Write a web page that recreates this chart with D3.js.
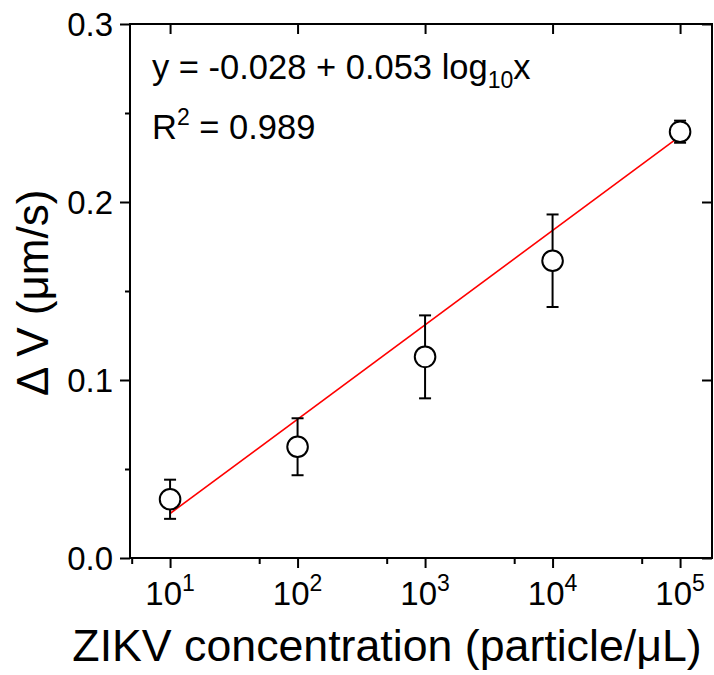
<!DOCTYPE html>
<html>
<head>
<meta charset="utf-8">
<script src="https://cdn.jsdelivr.net/npm/d3@7"></script>
<style>
  body { margin: 0; background: #fff; }
  text { font-family: "Liberation Sans", Arial, sans-serif; fill: #000; }
</style>
</head>
<body>
<svg id="chart" width="714" height="675"></svg>
<script>
// Measured response vs. ZIKV concentration
const concentrations = [1e1, 1e2, 1e3, 1e4, 1e5];
const deltaV = [0.033, 0.0625, 0.113, 0.167, 0.2395];
const deltaVErr = [0.011, 0.016, 0.0233, 0.026, 0.0062];

// Linear fit on log10(x)
const fitIntercept = -0.028;
const fitSlope = 0.053;
const rSquared = 0.989;
const fitRange = [1e1, 1e5];

// Axes
const xDomain = [4.85, 1.78e5];
const yDomain = [0, 0.3];
const xMajorTicks = [1e1, 1e2, 1e3, 1e4, 1e5];
const xMinorTicks = [5, 50, 500, 5000, 50000];
const yMajorTicks = [0, 0.1, 0.2, 0.3];
const yMinorTicks = [0.05, 0.15, 0.25];

const svg = d3.select("#chart");
const plotLeft = 130, plotRight = 712, plotTop = 24, plotBottom = 558;

const x = d3.scaleLog().domain(xDomain).range([plotLeft, plotRight]);
const y = d3.scaleLinear().domain(yDomain).range([plotBottom, plotTop]);

// Bottom axis: outward major + minor ticks
const gB = svg.append("g").attr("transform", `translate(0,${plotBottom})`);
gB.call(d3.axisBottom(x).tickValues(xMajorTicks).tickSize(10).tickFormat(""));
gB.select(".domain").remove();
const gBm = svg.append("g").attr("transform", `translate(0,${plotBottom})`);
gBm.call(d3.axisBottom(x).tickValues(xMinorTicks).tickSize(6).tickFormat(""));
gBm.select(".domain").remove();

// Top axis: inward major ticks
const gT = svg.append("g").attr("transform", `translate(0,${plotTop})`);
gT.call(d3.axisBottom(x).tickValues(xMajorTicks).tickSize(10).tickFormat(""));
gT.select(".domain").remove();

// Left axis: outward major + minor ticks with labels
const gL = svg.append("g").attr("transform", `translate(${plotLeft},0)`);
gL.call(d3.axisLeft(y).tickValues(yMajorTicks).tickSize(10).tickPadding(7).tickFormat(d3.format(".1f")));
gL.select(".domain").remove();
gL.selectAll("text").attr("font-size", 33).attr("dy", "0.36em");
const gLm = svg.append("g").attr("transform", `translate(${plotLeft},0)`);
gLm.call(d3.axisLeft(y).tickValues(yMinorTicks).tickSize(5).tickFormat(""));
gLm.select(".domain").remove();

// Right axis: inward major ticks
const gR = svg.append("g").attr("transform", `translate(${plotRight},0)`);
gR.call(d3.axisRight(y).tickValues(yMajorTicks).tickSize(-10).tickFormat(""));
gR.select(".domain").remove();

svg.selectAll(".tick line").attr("stroke", "#000").attr("stroke-width", 2);

// Frame
svg.append("rect")
  .attr("x", plotLeft).attr("y", plotTop)
  .attr("width", plotRight - plotLeft).attr("height", plotBottom - plotTop)
  .attr("fill", "none").attr("stroke", "#000").attr("stroke-width", 2);

// X tick labels as powers of ten
const xl = svg.append("g");
xMajorTicks.forEach(v => {
  const t = xl.append("text")
    .attr("x", x(v)).attr("y", 605)
    .attr("text-anchor", "middle").attr("font-size", 33);
  t.append("tspan").text("10");
  t.append("tspan").attr("dy", -14).attr("font-size", 23).text(Math.round(Math.log10(v)));
});

// Fit line
const fitLine = d3.line().x(d => x(d)).y(d => y(fitIntercept + fitSlope * Math.log10(d)));
svg.append("path")
  .datum(fitRange)
  .attr("d", fitLine)
  .attr("fill", "none").attr("stroke", "#ff0000").attr("stroke-width", 1.6);

// Error bars
const pts = concentrations.map((c, i) => ({ c, v: deltaV[i], e: deltaVErr[i] }));
const eb = svg.append("g").attr("stroke", "#000").attr("stroke-width", 2);
pts.forEach(p => {
  const cx = x(p.c);
  eb.append("line").attr("x1", cx).attr("x2", cx).attr("y1", y(p.v - p.e)).attr("y2", y(p.v + p.e));
  eb.append("line").attr("x1", cx - 6).attr("x2", cx + 6).attr("y1", y(p.v - p.e)).attr("y2", y(p.v - p.e));
  eb.append("line").attr("x1", cx - 6).attr("x2", cx + 6).attr("y1", y(p.v + p.e)).attr("y2", y(p.v + p.e));
});

// Markers
svg.append("g").selectAll("circle").data(pts).join("circle")
  .attr("cx", d => x(d.c)).attr("cy", d => y(d.v)).attr("r", 10.3)
  .attr("fill", "#fff").attr("stroke", "#000").attr("stroke-width", 2);

// Fit equation
const eq = svg.append("text").attr("x", 152).attr("y", 79).attr("font-size", 34.5);
eq.append("tspan").text(`y = ${fitIntercept.toFixed(3)} + ${fitSlope.toFixed(3)} log`);
eq.append("tspan").attr("dy", 9).attr("font-size", 23).text("10");
eq.append("tspan").attr("dy", -9).text("x");

const r2 = svg.append("text").attr("x", 152).attr("y", 139).attr("font-size", 34.5);
r2.append("tspan").text("R");
r2.append("tspan").attr("dy", -14).attr("font-size", 23).text("2");
r2.append("tspan").attr("dy", 14).text(` = ${rSquared.toFixed(3)}`);

// Axis titles
svg.append("text")
  .attr("x", 387).attr("y", 661)
  .attr("text-anchor", "middle").attr("font-size", 44.7)
  .text("ZIKV concentration (particle/μL)");

svg.append("text")
  .attr("transform", "translate(48,396) rotate(-90)")
  .attr("text-anchor", "start").attr("font-size", 44)
  .text("Δ V (μm/s)");
</script>
</body>
</html>
